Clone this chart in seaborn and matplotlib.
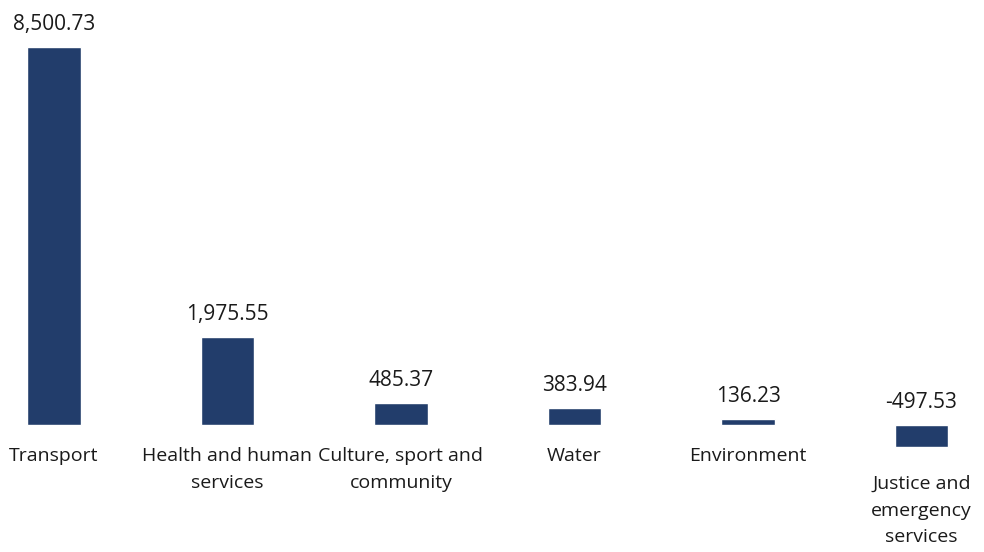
import matplotlib
matplotlib.use("Agg")
import matplotlib.pyplot as plt
import seaborn as sns
import pandas as pd

categories = [
    "Transport",
    "Health and human\nservices",
    "Culture, sport and\ncommunity",
    "Water",
    "Environment",
    "Justice and\nemergency\nservices",
]
values = [8500.73, 1975.55, 485.37, 383.94, 136.23, -497.53]

BAR_COLOR = "#223d6b"

sns.set_theme(style="white")
plt.rcParams["font.family"] = ["Open Sans", "DejaVu Sans"]

df = pd.DataFrame({"category": categories, "value": values})

fig = plt.figure(figsize=(9.84, 5.52), dpi=100)
ax = fig.add_axes([0, 0, 1, 1])

sns.barplot(data=df, x="category", y="value", color=BAR_COLOR,
            saturation=1, width=0.31, ax=ax, errorbar=None)

ax.set_xlim(-0.311, 5.36)
ax.set_ylim(-2856, 9557)
ax.axis("off")

for i, (cat, v) in enumerate(zip(categories, values)):
    # value label sits above the top edge of the bar (or above zero for negatives)
    ax.annotate(f"{v:,.2f}", xy=(i, max(v, 0)), xytext=(0, 12),
                textcoords="offset pixels", ha="center", va="bottom",
                fontsize=15, color="#1a1a1a")
    # category label below the baseline, or below the bar when negative
    off = -22 if v >= 0 else -28
    ax.annotate(cat, xy=(i, min(v, 0)), xytext=(0, off),
                textcoords="offset pixels", ha="center", va="top",
                fontsize=14, color="#1a1a1a", linespacing=1.62)

fig.savefig("out.png", dpi=100)
